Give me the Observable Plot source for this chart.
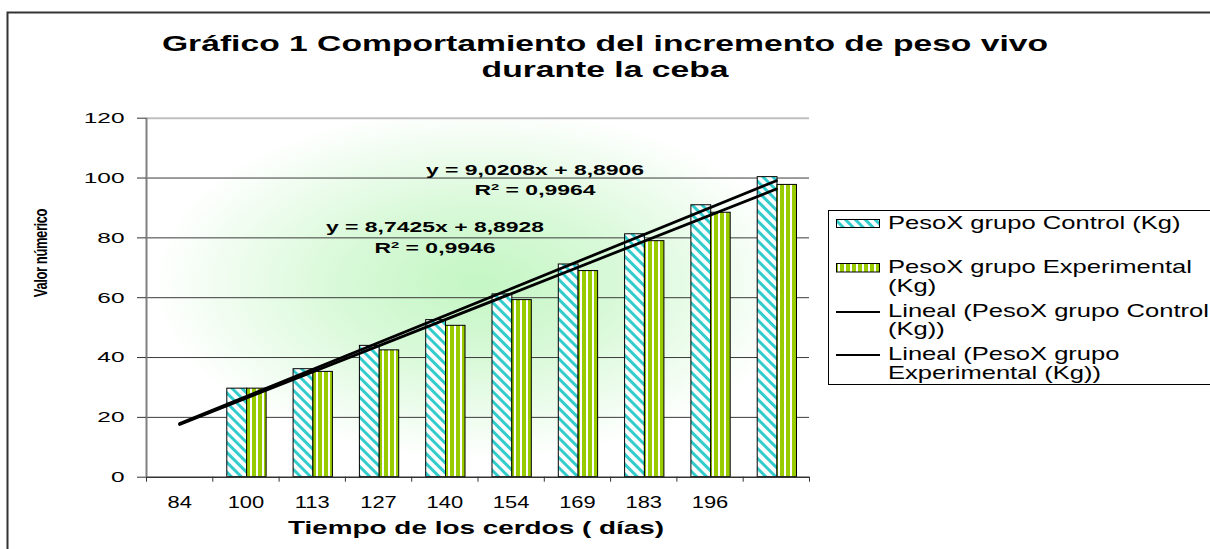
<!DOCTYPE html>
<html><head><meta charset="utf-8">
<script src="https://cdn.jsdelivr.net/npm/d3@7"></script>
<script src="https://cdn.jsdelivr.net/npm/@observablehq/plot@0.6"></script>
<style>
html,body{margin:0;padding:0;background:#fff;}
#chart{position:relative;width:1210px;height:549px;overflow:hidden;}
</style></head><body>
<svg width="0" height="0" style="position:absolute;left:0;top:0">
<defs>
 <radialGradient id="bgGrad" cx="0.5" cy="0.46" r="0.6">
   <stop offset="0" stop-color="#c4f6c4"/>
   <stop offset="0.35" stop-color="#d8f9d8"/>
   <stop offset="0.82" stop-color="#ffffff"/>
 </radialGradient>
 <pattern id="hatchCyan" patternUnits="userSpaceOnUse" width="7" height="7" patternTransform="rotate(-45)">
   <rect width="7" height="7" fill="#ffffff"/>
   <rect width="3" height="7" fill="#33cccc"/>
 </pattern>
 <pattern id="stripeGreen" patternUnits="userSpaceOnUse" width="6" height="6">
   <rect width="6" height="6" fill="#ffffff"/>
   <rect width="4" height="6" fill="#99cc00"/>
 </pattern>
</defs></svg>
<div id="chart"></div>
<script>
// ---------- data ----------
const dias = ["84","100","113","127","140","154","169","183","196",""];
const control = [null,29.6,36.1,43.9,52.5,61.1,71.1,81.2,90.9,100.3];
const experimental = [null,29.6,35.2,42.4,50.6,59.2,68.9,78.9,88.4,97.7];
const series = ["PesoX grupo Control (Kg)","PesoX grupo Experimental (Kg)"];
const trendSlope = [9.0208, 8.7425];
const trendIntercept = [8.8906, 8.8928];
const eqText = ["y = 9,0208x + 8,8906","y = 8,7425x + 8,8928"];
const r2Text = ["0,9964","0,9946"];
const yTicks = [0,20,40,60,80,100,120];
const gridTicks = [20,40,60,80,100];
const titleLines = ["Gráfico 1 Comportamiento del incremento de peso vivo","durante la ceba"];
const xTitle = "Tiempo de los cerdos ( días)";
const yTitle = "Valor númerico";
const legendLines = [["PesoX grupo Control (Kg)"],["PesoX grupo Experimental","(Kg)"],["Lineal (PesoX grupo Control","(Kg))"],["Lineal (PesoX grupo","Experimental (Kg))"]];

const rows = dias.map((d,i)=>({dia:d, control:control[i], experimental:experimental[i]}));
const trend = [];
trendSlope.forEach((m,k)=>{
  [0, dias.length-1].forEach(i => trend.push({serie:series[k], dia:dias[i], v:m*(i+1)+trendIntercept[k]}));
});

// ---------- layout ----------
const W=1210, H=549, mL=146, mR=401, mT=117.7, mB=72.3;
const bw = (W-mL-mR)/dias.length;
const FONT = "'Liberation Sans', Arial, Helvetica, sans-serif";

const plot = Plot.plot({
  width:W, height:H, marginLeft:mL, marginRight:mR, marginTop:mT, marginBottom:mB,
  style:{fontFamily:FONT, background:"white", color:"#000", overflow:"hidden"},
  x:{type:"band", domain:dias, padding:0, round:false, axis:null, label:null},
  y:{domain:[0,120], axis:null, label:null},
  marks:[
    Plot.frame({fill:"url(#bgGrad)", stroke:"none"}),
    Plot.ruleY(gridTicks, {stroke:"#3a3a3a", strokeWidth:1}),
    Plot.ruleY([120], {stroke:"#c0c0c0", strokeWidth:2}),
    Plot.barY(rows, {x:"dia", y:"control", fill:"url(#hatchCyan)", stroke:"#000", strokeWidth:1, insetLeft:14.5, insetRight:32}),
    Plot.barY(rows, {x:"dia", y:"experimental", fill:"url(#stripeGreen)", stroke:"#000", strokeWidth:1, insetLeft:34.3, insetRight:12.5}),
    Plot.ruleY([0], {stroke:"#333", strokeWidth:1.5}),
    Plot.ruleX([dias[0]], {dx:-bw/2, stroke:"#808080", strokeWidth:2}),
    Plot.axisY({ticks:yTicks, tickSize:9, tickPadding:13, fontSize:15, stroke:"#333", label:null}),
    Plot.axisX({ticks:dias, tickSize:5, tickFormat:()=>"", dx:-bw/2, stroke:"#333", label:null}),
    Plot.axisX({ticks:[dias[dias.length-1]], tickSize:5, tickFormat:()=>"", dx:bw/2, stroke:"#333", label:null}),
    Plot.axisX({ticks:dias, tickSize:0, tickPadding:19, fontSize:16, label:null}),
    Plot.line(trend, {x:"dia", y:"v", z:"serie", stroke:"#000", strokeWidth:2.8})
  ]
});
document.getElementById("chart").appendChild(plot);

// stretch tick labels horizontally like the reference
d3.select(plot).selectAll("text").each(function(){
  if (!this.textContent) return;
  const anchor = getComputedStyle(this).textAnchor;
  const s = anchor === "end" ? 1.63 : 1.37;
  const bb = this.getBBox();
  const ax = anchor === "end" ? bb.x + bb.width : anchor === "middle" ? bb.x + bb.width/2 : bb.x;
  const t = this.getAttribute("transform") || "";
  this.setAttribute("transform", `${t} translate(${ax} 0) scale(${s} 1) translate(${-ax} 0)`);
});

// ---------- overlay: title, axis titles, labels, legend ----------
const ov = d3.select(plot).append("g").attr("font-family", FONT).attr("fill", "#000");
function txt(x, y, str, {size=14, bold=false, anchor="start", s=1, sy=1, rotate=0, ls=0}={}) {
  const t = ov.append("text")
    .attr("transform", `translate(${x},${y})` + (rotate ? ` rotate(${rotate})` : "") + ` scale(${s},${sy})`)
    .attr("text-anchor", anchor)
    .attr("font-size", size)
    .attr("font-weight", bold ? "bold" : "normal");
  if (ls) t.attr("letter-spacing", ls);
  if (str != null) t.text(str);
  return t;
}
// chart border
ov.append("rect").attr("x",7.5).attr("y",12.5).attr("width",1300).attr("height",600)
  .attr("fill","none").attr("stroke","#333").attr("stroke-width",2);
// title
txt(605, 51, titleLines[0], {size:22, bold:true, anchor:"middle", s:1.53});
txt(605, 77, titleLines[1], {size:22, bold:true, anchor:"middle", s:1.53});
// axis titles
txt(476, 534, xTitle, {size:18, bold:true, anchor:"middle", s:1.55});
txt(47, 253, yTitle, {size:13, bold:true, anchor:"middle", rotate:-90, sy:1.35, ls:-0.4});
// trend equations
const eqPos = [{x:535, y:175, ry:194.5}, {x:435, y:232, ry:253}];
eqText.forEach((e,k)=>{
  txt(eqPos[k].x, eqPos[k].y, e, {size:14, bold:true, anchor:"middle", s:1.64});
  const r = txt(eqPos[k].x, eqPos[k].ry, null, {size:14, bold:true, anchor:"middle", s:1.64});
  r.append("tspan").text("R");
  r.append("tspan").attr("font-size", 9).attr("dy", -5).text("2");
  r.append("tspan").attr("dy", 5).text(" = " + r2Text[k]);
});
// legend
ov.append("rect").attr("x",828.5).attr("y",210.5).attr("width",400).attr("height",174)
  .attr("fill","#fff").attr("stroke","#000").attr("stroke-width",1);
ov.append("rect").attr("x",836.5).attr("y",219.5).attr("width",43).attr("height",8)
  .attr("fill","url(#hatchCyan)").attr("stroke","#000");
ov.append("rect").attr("x",836.5).attr("y",263.5).attr("width",43).attr("height",8.5)
  .attr("fill","url(#stripeGreen)").attr("stroke","#000");
[312, 355].forEach(y => ov.append("line").attr("x1",836).attr("x2",880).attr("y1",y).attr("y2",y)
  .attr("stroke","#000").attr("stroke-width",2));
const legendBase = [229, 273.3, 316.7, 360];
legendLines.forEach((lines,k)=>{
  lines.forEach((l,j)=> txt(888, legendBase[k] + j*18.5, l, {size:18, s:1.42}));
});
</script>
</body></html>
